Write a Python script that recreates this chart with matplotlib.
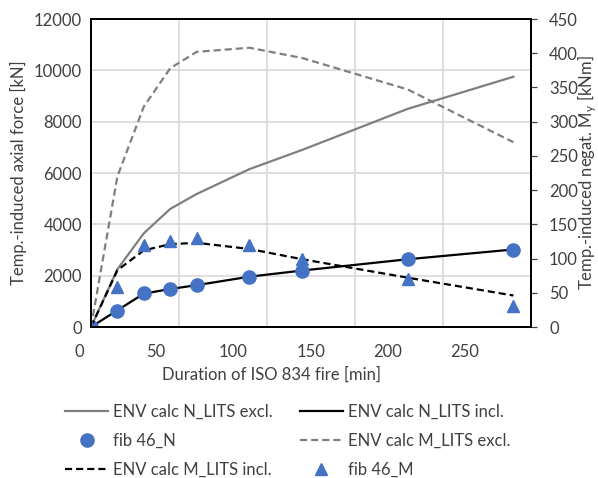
import matplotlib
matplotlib.use("Agg")
import matplotlib.pyplot as plt

plt.rcParams['font.family'] = ['Lato', 'DejaVu Sans']
plt.rcParams['mathtext.fontset'] = 'custom'
plt.rcParams['mathtext.rm'] = 'Lato'
plt.rcParams['mathtext.it'] = 'Lato'

# ---- data ----
time_min = [0, 15, 30, 45, 60, 90, 120, 180, 240]
n_lits_excl = [0, 2250, 3650, 4600, 5180, 6150, 6900, 8500, 9750]
n_lits_incl = [0, 650, 1300, 1480, 1630, 1960, 2200, 2640, 3020]
fib46_n = [0, 640, 1310, 1470, 1630, 1960, 2200, 2640, 3000]
m_lits_excl = [0, 220, 322, 378, 402, 408, 393, 347, 270]
m_lits_incl = [0, 83, 112, 121, 123, 114, 99, 72, 46]
fib46_m = [0, 59, 120, 125, 130, 120, 99, 70, 30]

x_ticks = [0, 50, 100, 150, 200, 250]
y_left_ticks = [0, 2000, 4000, 6000, 8000, 10000, 12000]
y_right_ticks = [0, 50, 100, 150, 200, 250, 300, 350, 400, 450]

TXT = '#404040'
GRAY = '#7F7F7F'
BLUE = '#4472C4'
FS = 12

fig = plt.figure(figsize=(5.98, 4.78), dpi=100)
ax = fig.add_axes([91/598, 1-327/478, 440/598, 308/478])
ax2 = ax.twinx()

ax.set_xlim(0, 250)
ax.set_ylim(0, 12000)
ax2.set_ylim(0, 450)
ax.set_xticks(x_ticks)
ax.set_yticks(y_left_ticks)
ax2.set_yticks(y_right_ticks)
ax.grid(True, color='#D9D9D9', lw=1.2)
ax.set_axisbelow(True)

# lines on left axis
l1, = ax.plot(time_min, n_lits_excl, color=GRAY, lw=1.6)
l2, = ax.plot(time_min, n_lits_incl, color='black', lw=1.6)
l3, = ax.plot(time_min, fib46_n, ls='none', marker='o', ms=9.5, color=BLUE)
# right axis
l4, = ax2.plot(time_min, m_lits_excl, color=GRAY, lw=1.6, ls=(0, (3.2, 1.8)))
l5, = ax2.plot(time_min, m_lits_incl, color='black', lw=1.6, ls=(0, (3.2, 1.8)))
l6, = ax2.plot(time_min, fib46_m, ls='none', marker='^', ms=9, color=BLUE)

for a in (ax, ax2):
    for s in a.spines.values():
        s.set_color('black')
        s.set_linewidth(1.3)

ax.tick_params(axis='y', length=0, pad=6.5, labelsize=FS, labelcolor=TXT)
ax.tick_params(axis='x', length=0, labelbottom=False)
ax2.tick_params(axis='y', direction='out', length=4, width=0.9, color='#404040',
                pad=9, labelsize=FS, labelcolor=TXT)

# x tick labels: in the reference they sit on a compressed scale, offset
# from the gridlines; reproduce with a frameless label axis
axl = fig.add_axes([79/598, 1-327/478, 386/598, 0.0001])
axl.set_xlim(0, 250)
axl.set_xticks(x_ticks)
axl.set_yticks([])
axl.patch.set_visible(False)
for s in axl.spines.values():
    s.set_visible(False)
axl.tick_params(axis='x', length=0, pad=12, labelsize=FS, labelcolor=TXT)
axl.set_xlabel('Duration of ISO 834 fire [min]', fontsize=FS, color=TXT, labelpad=5)

ax.set_ylabel('Temp.-induced axial force [kN]', fontsize=FS, color=TXT)
ax.yaxis.set_label_coords(-0.145, 0.5)
ax2.set_ylabel(r'Temp.-induced negat. M$_{\mathregular{y}}$ [kNm]', fontsize=FS, color=TXT)
ax2.yaxis.set_label_coords(1.101, 0.5)

handles = [l1, l3, l5, l2, l4, l6]
labels = ['ENV calc N_LITS excl.', 'fib 46_N', 'ENV calc M_LITS incl.',
          'ENV calc N_LITS incl.', 'ENV calc M_LITS excl.', 'fib 46_M']
leg = fig.legend(handles, labels, ncol=2, loc='upper left',
                 bbox_to_anchor=(65/598, 1-404/478), frameon=False,
                 fontsize=FS, handlelength=2.6, handletextpad=0.3,
                 labelspacing=0.76, columnspacing=1.6, borderpad=0,
                 borderaxespad=0)
for t in leg.get_texts():
    t.set_color(TXT)

fig.savefig('out.png', dpi=100)
